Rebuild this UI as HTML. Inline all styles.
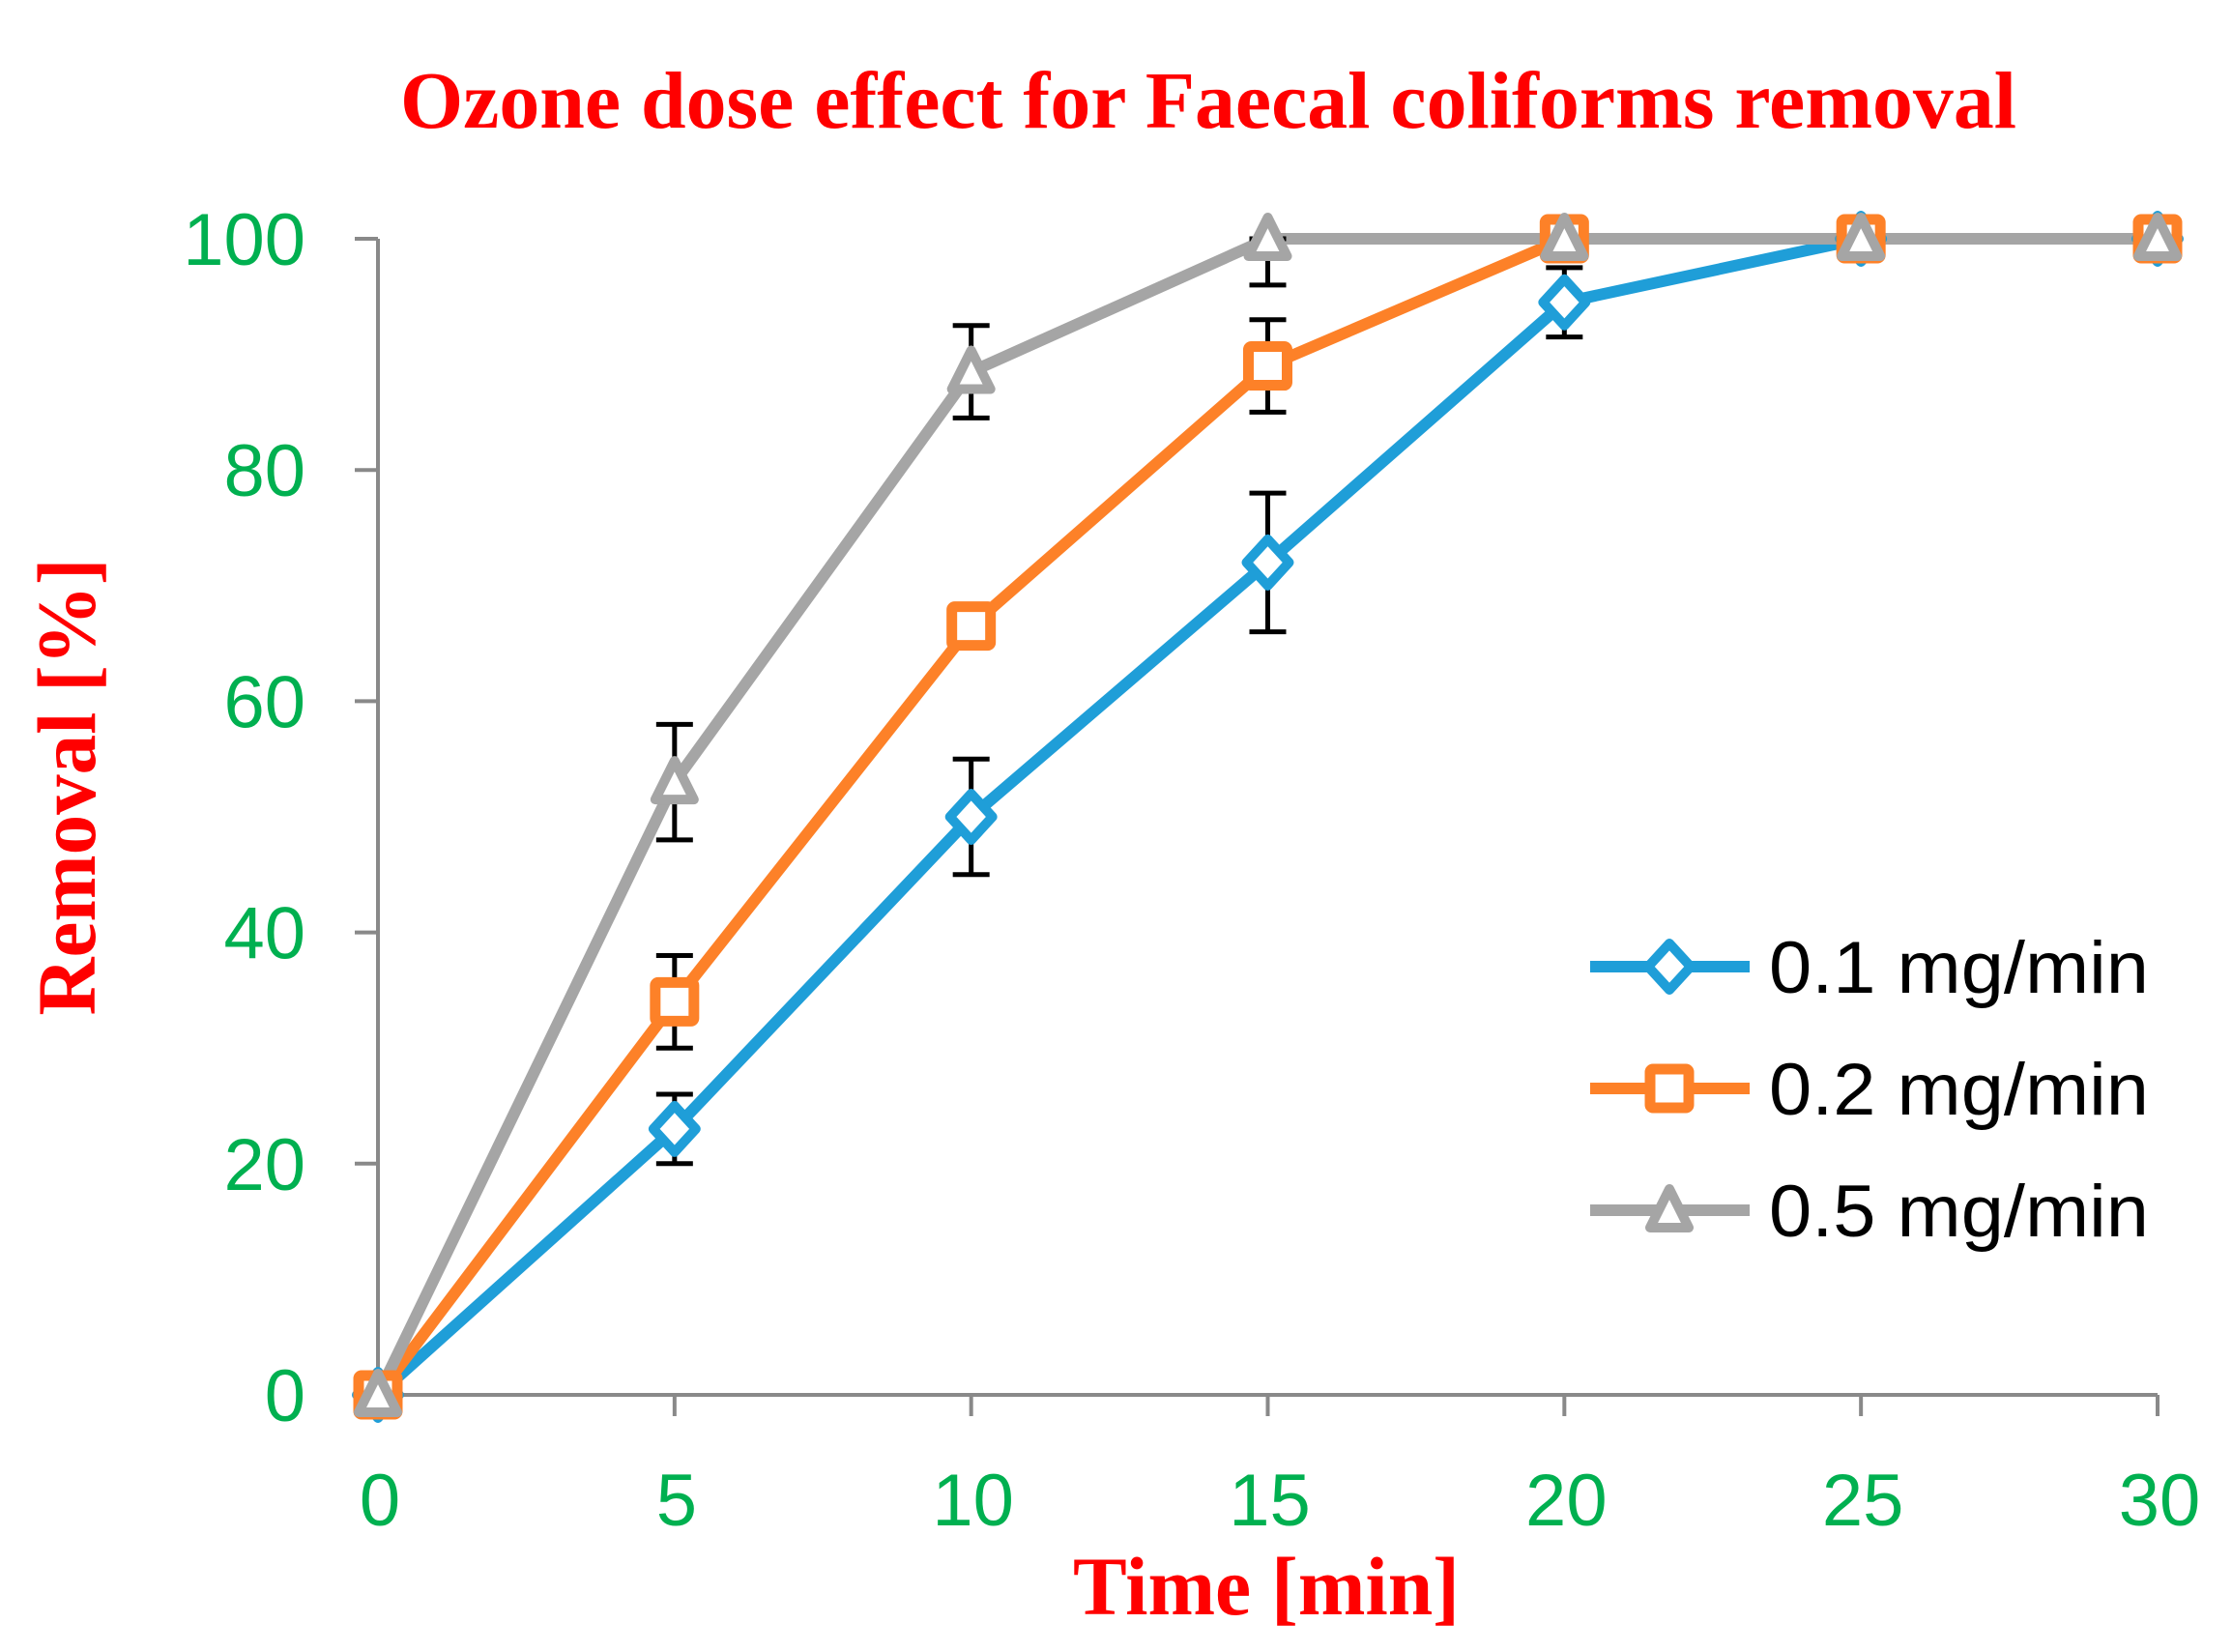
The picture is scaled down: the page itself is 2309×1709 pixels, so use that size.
<!DOCTYPE html>
<html><head><meta charset="utf-8"><style>body{margin:0;background:#fff}svg{display:block}</style></head>
<body>
<svg id="chart" width="2309" height="1709" viewBox="0 0 2309 1709" xmlns="http://www.w3.org/2000/svg">
<rect width="2309" height="1709" fill="#fff"/>
<text x="1250" y="132" text-anchor="middle" font-family="Liberation Serif, serif" font-weight="bold" font-size="84" fill="#ff0000" textLength="1672" lengthAdjust="spacingAndGlyphs">Ozone dose effect for Faecal coliforms removal</text>
<text x="1310" y="1670" text-anchor="middle" font-family="Liberation Serif, serif" font-weight="bold" font-size="86" fill="#ff0000" textLength="400" lengthAdjust="spacingAndGlyphs">Time [min]</text>
<text transform="translate(98,814) rotate(-90)" text-anchor="middle" font-family="Liberation Serif, serif" font-weight="bold" font-size="86" fill="#ff0000" textLength="473" lengthAdjust="spacingAndGlyphs">Removal [%]</text>
<g id="axes"></g>
<g id="series"></g>
<g id="legend"></g>
</svg>
<script>
const times = [0, 5, 10, 15, 20, 25, 30];
const seriesNames = ["0.1 mg/min", "0.2 mg/min", "0.5 mg/min"];
const s1 = [0, 23, 50, 72, 94.5, 100, 100];
const s2 = [0, 34, 66.5, 89, 100, 100, 100];
const s3 = [0, 53, 88.5, 100, 100, 100, 100];
const e1 = [0, 3, 5, 6, 3, 0, 0];
const e2 = [0, 4, 0, 4, 0, 0, 0];
const e3 = [0, 5, 4, 4, 0, 0, 0];
const xTicks = [0, 5, 10, 15, 20, 25, 30];
const yTicks = [0, 20, 40, 60, 80, 100];

const NS = "http://www.w3.org/2000/svg";
const X0 = 391, X1 = 2232, Y0 = 1443, Y1 = 247;
function xs(v){ return X0 + (v - 0) / 30 * (X1 - X0); }
function ys(v){ return Y0 - v / 100 * (Y0 - Y1); }
function mk(tag, attrs, parent){ const e = document.createElementNS(NS, tag); for (const k in attrs) e.setAttribute(k, attrs[k]); parent.appendChild(e); return e; }

const axes = document.getElementById('axes');
const grey = "#898989";
let l = mk('line', {x1: X0, y1: Y1, x2: X0, y2: Y0, stroke: grey, 'stroke-width': 4}, axes);


l = mk('line', {x1: X0, y1: Y0, x2: X1, y2: Y0, stroke: grey, 'stroke-width': 4}, axes);


yTicks.forEach(v => {
  const t = mk('line', {x1: X0 - 24, y1: ys(v), x2: X0, y2: ys(v), stroke: grey, 'stroke-width': 4}, axes);
  
  
  const tx = mk('text', {x: 316, y: ys(v) + 27, 'text-anchor': 'end', 'font-family': 'Liberation Sans, sans-serif', 'font-size': 76, fill: '#00b050'}, axes);
  
  
  tx.textContent = v;
});
xTicks.forEach(v => {
  const t = mk('line', {x1: xs(v), y1: Y0, x2: xs(v), y2: Y0 + 22, stroke: grey, 'stroke-width': 4}, axes);
  
  
  const tx = mk('text', {x: xs(v) + 2, y: 1578, 'text-anchor': 'middle', 'font-family': 'Liberation Sans, sans-serif', 'font-size': 76, fill: '#00b050'}, axes);
  
  
  tx.textContent = v;
});

const colors = ["#1f9ed8", "#fd8128", "#a5a5a5"];
const shapes = ["diamond", "square", "triangle"];
function marker(shape, cx, cy, color, parent){
  let e;
  if (shape === "diamond") e = mk('polygon', {points: `${cx},${cy-24} ${cx+22},${cy} ${cx},${cy+24} ${cx-22},${cy}`, fill: '#fff', stroke: color, 'stroke-width': 10, 'stroke-linejoin': 'round'}, parent);
  else if (shape === "square") e = mk('rect', {x: cx-20, y: cy-20, width: 40, height: 40, fill: '#fff', stroke: color, 'stroke-width': 11, rx: 3}, parent);
  else e = mk('polygon', {points: `${cx},${cy-22} ${cx+20},${cy+18} ${cx-20},${cy+18}`, fill: '#fff', stroke: color, 'stroke-width': 10, 'stroke-linejoin': 'round'}, parent);
  return e;
}
const seriesG = document.getElementById('series');
const data = [s1, s2, s3], errs = [e1, e2, e3];
data.forEach((s, i) => {
  const g = mk('g', {}, seriesG);
  
  
  const p = mk('polyline', {points: s.map((v, j) => xs(times[j]) + ',' + ys(v)).join(' '), fill: 'none', stroke: colors[i], 'stroke-width': 12, 'stroke-linejoin': 'round'}, g);
  
  
  s.forEach((v, j) => {
    if (errs[i][j] > 0) {
      const eg = mk('g', {stroke: '#000', 'stroke-width': 5}, g);
      
      
      const x = xs(times[j]), yt = ys(Math.min(100, v + errs[i][j])), yb = ys(v - errs[i][j]);
      mk('line', {x1: x, y1: yt, x2: x, y2: yb}, eg);
      mk('line', {x1: x - 19, y1: yt, x2: x + 19, y2: yt}, eg);
      mk('line', {x1: x - 19, y1: yb, x2: x + 19, y2: yb}, eg);
    }
  });
});
data.forEach((s, i) => {
  s.forEach((v, j) => {
    const m = marker(shapes[i], xs(times[j]), ys(v), colors[i], seriesG);
    
    
  });
});

const leg = document.getElementById('legend');
seriesNames.forEach((n, i) => {
  const y = 1000 + i * 126;
  const g = mk('g', {}, leg);
  
  
  mk('line', {x1: 1645, y1: y, x2: 1810, y2: y, stroke: colors[i], 'stroke-width': 12}, g);
  marker(shapes[i], 1727, y, colors[i], g);
  const t = mk('text', {x: 1830, y: y + 27, 'font-family': 'Liberation Sans, sans-serif', 'font-size': 76, fill: '#000', textLength: 393, lengthAdjust: 'spacingAndGlyphs'}, g);
  
  
  t.textContent = n;
});
</script>
</body></html>
